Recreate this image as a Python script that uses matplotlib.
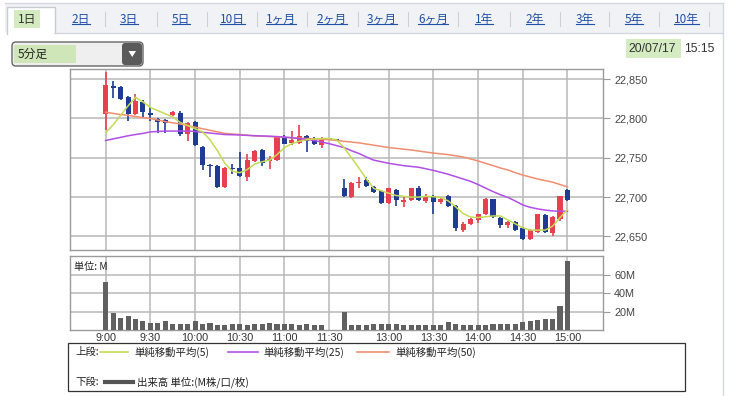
import numpy as np
import matplotlib
matplotlib.use('Agg')
import matplotlib.pyplot as plt
from matplotlib.patches import Rectangle, FancyBboxPatch, Polygon

W, H = 743, 396
JP = ['Noto Sans CJK JP', 'DejaVu Sans']
LAT = ['Liberation Sans', 'DejaVu Sans']

# ---------------- data ----------------
tab_labels = ['1日', '2日', '3日', '5日', '10日', '1ヶ月', '2ヶ月', '3ヶ月', '6ヶ月', '1年', '2年', '3年', '5年', '10年']
time_labels = ['9:00', '9:30', '10:00', '10:30', '11:00', '11:30', '13:00', '13:30', '14:00', '14:30', '15:00']
label_slots = [0, 6, 12, 18, 24, 30, 38, 44, 50, 56, 62]
price_ticks = [22650, 22700, 22750, 22800, 22850]
vol_ticks = [20, 40, 60]

opens = [22806, 22841, 22840, 22827, 22806, 22821, 22807, 22799, 22798, 22804,
         22807, 22780, 22795, 22764, 22741, 22740, 22713, 22737, 22737, 22726,
         22746, 22760, 22746, 22747, 22777, 22769, 22769, 22778, 22773, 22766,
         22775, 22774, 22711, 22700, 22718, 22722, 22713, 22708, 22692, 22709,
         22694, 22696, 22711, 22695, 22702, 22694, 22702, 22689, 22658, 22666,
         22671, 22678, 22697, 22674, 22664, 22668, 22661, 22647, 22655, 22677,
         22654, 22672, 22709]
closes = [22842, 22839, 22825, 22806, 22822, 22808, 22805, 22795, 22794, 22808,
          22780, 22794, 22766, 22741, 22739, 22713, 22737, 22736, 22727, 22747,
          22759, 22744, 22749, 22777, 22768, 22773, 22778, 22772, 22768, 22775,
          22773, 22773, 22701, 22718, 22719, 22714, 22706, 22692, 22711, 22696,
          22696, 22711, 22696, 22702, 22694, 22698, 22689, 22661, 22666, 22672,
          22678, 22698, 22675, 22664, 22668, 22658, 22647, 22658, 22678, 22655,
          22675, 22701, 22696]
highs = [22859, 22848, 22841, 22829, 22831, 22823, 22814, 22800, 22799, 22810,
         22810, 22796, 22797, 22765, 22742, 22741, 22738, 22742, 22757, 22755,
         22760, 22761, 22752, 22778, 22779, 22784, 22792, 22779, 22777, 22776,
         22775, 22774, 22723, 22719, 22725, 22725, 22714, 22709, 22712, 22710,
         22700, 22712, 22714, 22704, 22703, 22700, 22703, 22690, 22668, 22674,
         22679, 22699, 22698, 22675, 22670, 22669, 22662, 22659, 22679, 22678,
         22676, 22702, 22710]
lows = [22785, 22826, 22823, 22797, 22804, 22802, 22797, 22782, 22781, 22803,
        22778, 22772, 22765, 22735, 22725, 22712, 22712, 22730, 22726, 22721,
        22745, 22740, 22736, 22746, 22767, 22766, 22768, 22758, 22766, 22762,
        22773, 22773, 22700, 22699, 22712, 22713, 22705, 22691, 22691, 22689,
        22688, 22695, 22695, 22692, 22679, 22691, 22688, 22657, 22656, 22664,
        22667, 22677, 22674, 22661, 22661, 22657, 22645, 22645, 22654, 22654,
        22651, 22670, 22695]

ma5 = [22782, 22792, 22804, 22816, 22827, 22821, 22814, 22810, 22806, 22802,
       22795, 22791, 22787, 22783, 22773, 22759, 22743, 22733, 22731, 22735,
       22742, 22745, 22747, 22754, 22763, 22768, 22771, 22773, 22774, 22774.5,
       22774.5, 22773, 22763, 22750, 22737, 22723, 22711, 22708, 22705, 22702,
       22701, 22700, 22700, 22701, 22700.5, 22699.5, 22695, 22687.5, 22679, 22674.5,
       22674, 22675, 22676, 22676, 22671, 22666, 22661, 22658, 22658, 22658,
       22663, 22674, 22684]
ma25 = [22772, 22774, 22776, 22778, 22779.6, 22781, 22783, 22783.5, 22784, 22784,
        22784, 22784, 22783.5, 22782.5, 22781.5, 22780.5, 22779.6, 22779.3, 22779, 22778.5,
        22778, 22777.8, 22777.5, 22777, 22776.4, 22775.5, 22774.5, 22773.3, 22772, 22770,
        22768, 22765.5, 22763, 22759, 22755.5, 22751, 22747, 22745, 22743, 22741.5,
        22740, 22739, 22738, 22736, 22734, 22731.5, 22729, 22726, 22723, 22720,
        22716, 22711.5, 22707, 22703, 22699.6, 22695, 22690, 22687, 22685, 22683.5,
        22682.4, 22682, 22682]
ma50 = [22808, 22806.5, 22805, 22804, 22802.5, 22801, 22800, 22798, 22796, 22794.5,
        22793, 22791, 22789, 22787, 22785, 22783, 22781, 22780.3, 22779.6, 22778.8,
        22778, 22777.5, 22777, 22776.5, 22776, 22775.5, 22775, 22774.5, 22774, 22773.5,
        22773, 22772, 22771, 22770, 22769, 22767.5, 22766, 22764.5, 22763, 22762,
        22761, 22760, 22758.6, 22757.3, 22756, 22755, 22754, 22752.5, 22751, 22748.5,
        22746, 22743, 22740, 22737, 22734.5, 22731, 22728, 22725.5, 22723, 22721,
        22719, 22716, 22713]

volume = [52, 18.9, 13.5, 15.3, 12.4, 9.5, 8.0, 7.3, 9.5, 7.1,
          7.1, 7.1, 10.2, 7.1, 8.0, 5.1, 5.1, 7.1, 7.1, 5.5,
          7.1, 7.1, 8.0, 6.7, 6.7, 6.2, 5.1, 6.4, 5.1, 5.1,
          0, 0, 19.7, 6.0, 5.5, 6.0, 6.2, 6.4, 6.4, 6.4,
          5.5, 5.1, 5.1, 6.0, 6.0, 5.1, 8.4, 7.1, 5.1, 5.8,
          5.8, 5.8, 6.4, 6.7, 6.9, 6.9, 8.4, 10.2, 10.9, 12.0,
          12.0, 26.6, 75.4]

legend_labels = ['単純移動平均(5)', '単純移動平均(25)', '単純移動平均(50)']
vol_legend = '出来高 単位:(M株/口/枚)'

# ---------------- styles ----------------
RED = '#e8404e'
BLUE = '#1f3b94'
C_MA5 = '#c5da55'
C_MA25 = '#b04fe6'
C_MA50 = '#f18d70'
GRID = '#b8b8b8'
SPINE = '#9a9a9a'
LFS = 7.5

fig = plt.figure(figsize=(W / 100, H / 100), dpi=100)
fig.patch.set_facecolor('white')

# background / decoration axes in pixel coords
bg = fig.add_axes([0, 0, 1, 1], zorder=0)
bg.set_xlim(0, W)
bg.set_ylim(H, 0)
bg.axis('off')

# tab strip
bg.add_patch(Rectangle((5, 3), 718, 30, facecolor='#f0f2f6', edgecolor='none'))
bg.plot([5, 723], [3, 3], color='#d4d8de', lw=1)
bg.plot([723, 723], [3, 396], color='#d4d8de', lw=1)
bg.plot([55, 723], [33, 33], color='#d4d8de', lw=1)
bg.add_patch(Rectangle((7, 7), 48, 27, facecolor='white', edgecolor='none'))
bg.plot([7, 7, 55, 55], [34, 7, 7, 33], color='#c8ccd2', lw=1)
bg.add_patch(Rectangle((14, 10), 26, 18, facecolor='#d3ebbf', edgecolor='none'))

tab_x = [27, 81, 129, 181, 232, 281, 332, 382, 433, 484, 535, 585, 634, 686]
sep_x = [105, 157, 207, 257, 307, 358, 408, 458, 510, 560, 609, 659, 709]
tab_texts = []
for i, (lab, tx) in enumerate(zip(tab_labels, tab_x)):
    col = '#333333' if i == 0 else '#2050a8'
    t = bg.text(tx, 19, lab, ha='center', va='center', fontsize=8.5,
                family=JP, color=col)
    tab_texts.append(t)
for sx in sep_x:
    bg.plot([sx, sx], [12, 26], color='#d0d0d0', lw=0.8)

# dropdown
bg.add_patch(FancyBboxPatch((12, 42), 131, 24, boxstyle='round,pad=0,rounding_size=4',
                            facecolor='#efefef', edgecolor='#666666', lw=1))
bg.add_patch(Rectangle((14, 45), 62, 18, facecolor='#cfe6b8', edgecolor='none'))
bg.add_patch(FancyBboxPatch((122, 43), 20, 22, boxstyle='round,pad=0,rounding_size=3',
                            facecolor='#5a5a5a', edgecolor='none'))
bg.add_patch(Polygon([[128.5, 51], [136, 51], [132.2, 57]], closed=True,
                     facecolor='white', edgecolor='none'))
bg.text(18, 54.5, '5分足', ha='left', va='center', fontsize=8.5, family=JP, color='#222222')

# date stamp
bg.add_patch(Rectangle((626, 39), 55, 19, facecolor='#d5ecc3', edgecolor='none'))
bg.text(628, 48.5, '20/07/17', ha='left', va='center', fontsize=8.8, family=LAT, color='#333333')
bg.text(684, 48.5, '15:15', ha='left', va='center', fontsize=8.8, family=LAT, color='#333333')

# legend box
bg.add_patch(Rectangle((68, 343), 617, 48, facecolor='none', edgecolor='#333333', lw=0.9))
bg.text(75, 352, '上段:', ha='left', va='center', fontsize=LFS, family=JP, color='#222222')
bg.plot([100, 128], [352, 352], color=C_MA5, lw=1.2)
bg.text(134, 352, legend_labels[0], ha='left', va='center', fontsize=LFS, family=JP, color='#222222')
bg.plot([228, 258], [352, 352], color=C_MA25, lw=1.2)
bg.text(263, 352, legend_labels[1], ha='left', va='center', fontsize=LFS, family=JP, color='#222222')
bg.plot([357, 389], [352, 352], color=C_MA50, lw=1.2)
bg.text(395, 352, legend_labels[2], ha='left', va='center', fontsize=LFS, family=JP, color='#222222')
bg.text(75, 382, '下段:', ha='left', va='center', fontsize=LFS, family=JP, color='#222222')
bg.plot([105, 133], [382, 382], color='#555555', lw=3)
bg.text(137, 382, vol_legend, ha='left', va='center', fontsize=LFS, family=JP, color='#222222')

# ---------------- price axes ----------------
PX_L, PX_R = 70, 603
x = np.arange(len(opens))
x0, unit = 105.7, 7.448
xl = ((PX_L - x0) / unit, (PX_R - x0) / unit)

ax = fig.add_axes([PX_L / W, (H - 250) / H, (PX_R - PX_L) / W, (250 - 68.5) / H], zorder=2)
ax.set_facecolor('white')
ax.set_xlim(*xl)
ax.set_ylim(22632.7, 22863.6)
for s in ax.spines.values():
    s.set_color(SPINE)
    s.set_linewidth(1)
ax.set_xticks(label_slots)
ax.set_xticklabels([])
ax.tick_params(axis='x', length=0)
ax.yaxis.tick_right()
ax.set_yticks(price_ticks)
ax.set_yticklabels([f'{v:,}' for v in price_ticks], family=LAT, fontsize=7.8, color='#444444')
ax.tick_params(axis='y', length=5, color=SPINE, pad=3)
ax.grid(True, color=GRID, lw=1.1)
ax.set_axisbelow(True)

o = np.array(opens, float)
c = np.array(closes, float)
hi = np.array(highs, float)
lo = np.array(lows, float)
cols = [RED if cc > oo else BLUE for oo, cc in zip(o, c)]
ax.vlines(x, lo, hi, colors=cols, lw=1.2, zorder=3)
body = np.maximum(np.abs(c - o), 1.3)
ax.bar(x, body, bottom=np.minimum(o, c), width=0.68, color=cols, zorder=4, lw=0)

ax.plot(x, ma50, color=C_MA50, lw=1.1, zorder=5)
ax.plot(x, ma25, color=C_MA25, lw=1.1, zorder=5)
ax.plot(x, ma5, color=C_MA5, lw=1.1, zorder=5)

# ---------------- volume axes ----------------
vx = fig.add_axes([PX_L / W, (H - 330) / H, (PX_R - PX_L) / W, (330 - 256) / H], zorder=2)
vx.set_facecolor('white')
vx.set_xlim(*xl)
vx.set_ylim(0, 80.9)
for s in vx.spines.values():
    s.set_color(SPINE)
    s.set_linewidth(1)
vx.bar(x, volume, width=0.68, color='#606060', lw=0, zorder=3)
vx.set_xticks(label_slots)
vx.set_xticklabels(time_labels, family=LAT, fontsize=7.8, color='#333333')
vx.tick_params(axis='x', length=0, pad=2)
vx.yaxis.tick_right()
vx.set_yticks(vol_ticks)
vx.set_yticklabels([f'{v}M' for v in vol_ticks], family=LAT, fontsize=7.8, color='#444444')
vx.tick_params(axis='y', length=5, color=SPINE, pad=3)
vx.grid(True, color=GRID, lw=1.1)
vx.set_axisbelow(True)
vx.text(0.008, 0.92, '単位: M', transform=vx.transAxes, ha='left', va='top',
        fontsize=7.3, family=JP, color='#222222', zorder=6)

# underline tab links
fig.canvas.draw()
r = fig.canvas.get_renderer()
inv = bg.transData.inverted()
for i, t in enumerate(tab_texts):
    if i == 0:
        continue
    bb = t.get_window_extent(r)
    (a, b) = inv.transform((bb.x0, bb.y0))
    (a2, b2) = inv.transform((bb.x1, bb.y1))
    bg.plot([a, a2], [b - 1.5, b - 1.5], color='#2050a8', lw=0.8)

fig.savefig('out.png', dpi=100, facecolor='white')
